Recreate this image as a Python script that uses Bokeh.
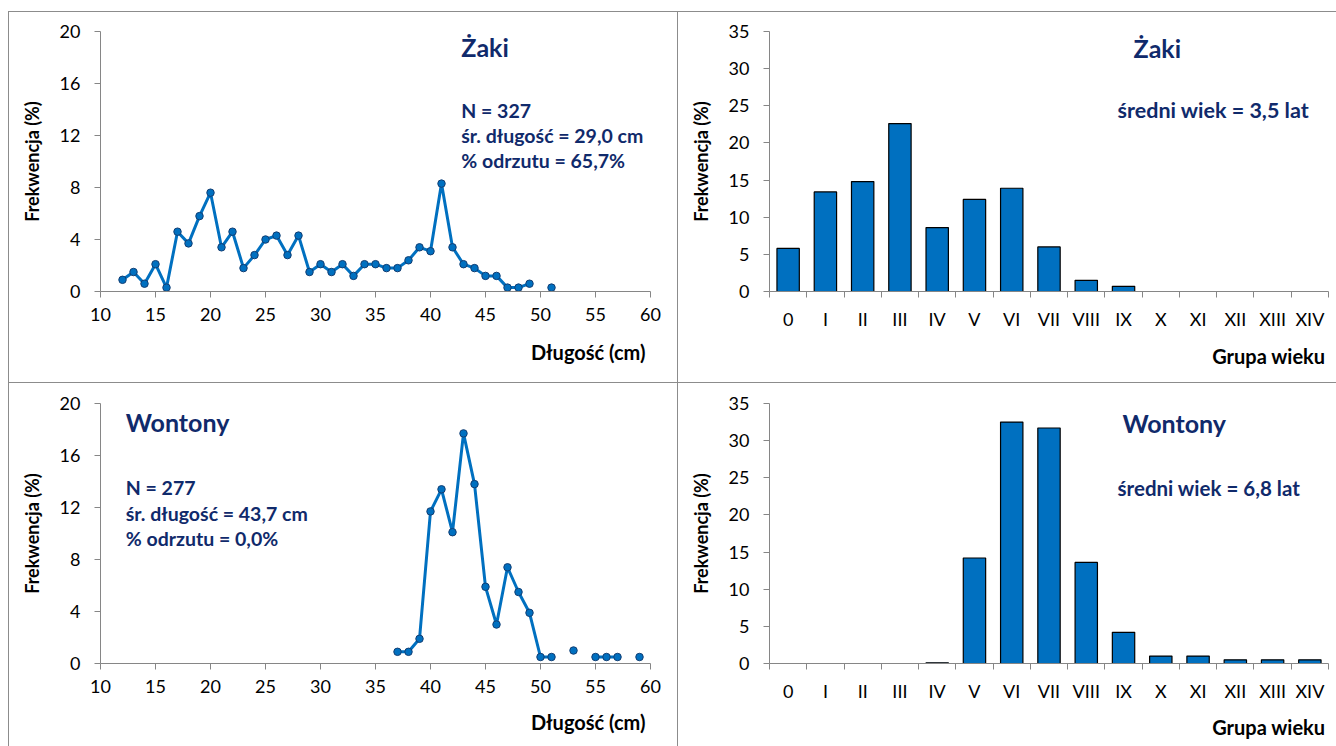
import math

from bokeh.embed import file_html
from bokeh.layouts import column, row
from bokeh.models import ColumnDataSource, FixedTicker, Label, Range1d, Spacer, Title
from bokeh.plotting import figure
from bokeh.resources import INLINE

FONT = "Lato"
NAVY = "#102A6B"
BLUE = "#0070C0"
MARKER_EDGE = "#123E73"
AXIS_GREY = "#868686"
PANEL_EDGE = "#8C8C8C"

# Length-frequency distributions (% of fish per 1 cm class); None = empty class
zaki_length_cm = list(range(12, 52))
zaki_length_pct = [0.9, 1.5, 0.6, 2.1, 0.3, 4.6, 3.7, 5.8, 7.6, 3.4,
                   4.6, 1.8, 2.8, 4.0, 4.3, 2.8, 4.3, 1.5, 2.1, 1.5,
                   2.1, 1.2, 2.1, 2.1, 1.8, 1.8, 2.4, 3.4, 3.1, 8.3,
                   3.4, 2.1, 1.8, 1.2, 1.2, 0.3, 0.3, 0.6, None, 0.3]

wontony_length_cm = list(range(37, 60))
wontony_length_pct = [0.9, 0.9, 1.9, 11.7, 13.4, 10.1, 17.7, 13.8, 5.9, 3.0,
                      7.4, 5.5, 3.9, 0.5, 0.5, None, 1.0, None, 0.5, 0.5,
                      0.5, None, 0.5]

# Age-group distributions (%)
age_groups = ["0", "I", "II", "III", "IV", "V", "VI", "VII", "VIII", "IX",
              "X", "XI", "XII", "XIII", "XIV"]
zaki_age_pct = [5.8, 13.4, 14.8, 22.6, 8.6, 12.4, 13.9, 6.0, 1.5, 0.7,
                0.0, 0.0, 0.0, 0.0, 0.0]
wontony_age_pct = [0.0, 0.0, 0.0, 0.0, 0.1, 14.2, 32.5, 31.7, 13.6, 4.2,
                   1.0, 1.0, 0.5, 0.5, 0.5]

length_ticks = [10, 15, 20, 25, 30, 35, 40, 45, 50, 55, 60]
length_pct_ticks = [0, 4, 8, 12, 16, 20]
age_pct_ticks = [0, 5, 10, 15, 20, 25, 30, 35]

zaki_length_notes = ["N = 327", "śr. długość = 29,0 cm", "% odrzutu = 65,7%"]
wontony_length_notes = ["N = 277", "śr. długość = 43,7 cm", "% odrzutu = 0,0%"]
zaki_age_note = "średni wiek = 3,5 lat"
wontony_age_note = "średni wiek = 6,8 lat"


def base_figure(width, height, x_range, y_range, top, bottom, right,
                xtitle, xtitle_standoff, xtitle_offset):
    p = figure(width=width, height=height, x_range=x_range, y_range=y_range,
               output_backend="svg", toolbar_location=None,
               min_border_left=92, min_border_right=right,
               min_border_top=top, min_border_bottom=bottom)
    p.background_fill_color = None
    p.border_fill_color = None
    p.outline_line_color = None
    p.grid.visible = False
    p.styles = {"box-shadow": f"inset 1px 1px 0 0 {PANEL_EDGE}"}
    for ax in p.axis:
        ax.axis_line_color = AXIS_GREY
        ax.major_tick_line_color = AXIS_GREY
        ax.major_tick_out = 6
        ax.major_tick_in = 0
        ax.minor_tick_line_color = None
        ax.major_label_text_font = FONT
        ax.major_label_text_font_size = "18px"
        ax.major_label_text_color = "black"
        ax.axis_label_text_font = FONT
        ax.axis_label_text_font_style = "bold"
        ax.axis_label_text_font_size = "18px"
        ax.axis_label_text_color = "black"
    p.xaxis.major_label_standoff = 10
    p.yaxis.major_label_standoff = 14
    p.yaxis.axis_label = "Frekwencja (%)"
    p.yaxis.axis_label_standoff = 14
    p.add_layout(Title(text=xtitle, align="right", offset=xtitle_offset,
                       standoff=xtitle_standoff, text_font=FONT, text_font_style="bold",
                       text_font_size="20px", text_color="black"), "below")
    return p


def note(p, x, y, text, size):
    p.add_layout(Label(x=x, y=y, text=text, text_font=FONT, text_font_style="bold",
                       text_font_size=size, text_color=NAVY, text_align="left",
                       text_baseline="middle"))


def length_panel(width, height, top, bottom, cm, pct, title, title_pos, notes, notes_pos,
                 xtitle_standoff):
    p = base_figure(width, height, Range1d(10, 60), Range1d(0, 20), top, bottom, 27,
                    "Długość (cm)", xtitle_standoff, 5)
    y = [math.nan if v is None else v for v in pct]
    p.line(cm, y, line_color=BLUE, line_width=3)
    p.scatter(cm, y, size=7.5, fill_color=BLUE, line_color=MARKER_EDGE, line_width=1)
    p.xaxis.ticker = FixedTicker(ticks=length_ticks)
    p.yaxis.ticker = FixedTicker(ticks=length_pct_ticks)
    note(p, title_pos[0], title_pos[1], title, "25px")
    nx, ny, step = notes_pos
    for i, t in enumerate(notes):
        note(p, nx, ny - i * step, t, "19.5px")
    return p


def age_panel(width, height, top, bottom, pct, title, title_pos, note_text, note_pos,
              note_size, xtitle_standoff):
    p = base_figure(width, height, Range1d(0, 15), Range1d(0, 35), top, bottom, 8,
                    "Grupa wieku", xtitle_standoff, 3)
    shown = [i for i, v in enumerate(pct) if v > 0]
    src = ColumnDataSource(dict(x=[i + 0.5 for i in shown], top=[pct[i] for i in shown]))
    p.vbar(x="x", top="top", width=0.6, source=src, fill_color=BLUE,
           line_color="black", line_width=1.2)
    # group names sit on the centres, tick marks on the group boundaries
    centres = [i + 0.5 for i in range(len(age_groups))]
    p.xaxis.ticker = FixedTicker(ticks=centres,
                                 minor_ticks=list(range(0, len(age_groups) + 1)))
    p.xaxis.major_label_overrides = {c: g for c, g in zip(centres, age_groups)}
    p.xaxis.major_tick_line_color = None
    p.xaxis.minor_tick_line_color = AXIS_GREY
    p.xaxis.minor_tick_out = 6
    p.xaxis.minor_tick_in = 0
    p.yaxis.ticker = FixedTicker(ticks=age_pct_ticks)
    note(p, title_pos[0], title_pos[1], title, "25px")
    note(p, note_pos[0], note_pos[1], note_text, note_size)
    return p


p_tl = length_panel(669, 371, 20, 91, zaki_length_cm, zaki_length_pct,
                    "Żaki", (42.8, 18.77), zaki_length_notes, (42.8, 13.92, 1.92), 29)
p_tr = age_panel(659, 371, 20, 91, zaki_age_pct, "Żaki", (9.77, 32.84),
                 zaki_age_note, (9.34, 24.5), "21.5px", 18)
p_bl = length_panel(669, 364, 21, 83, wontony_length_cm, wontony_length_pct,
                    "Wontony", (12.3, 18.54), wontony_length_notes, (12.3, 13.54, 1.98), 25)
p_br = age_panel(659, 364, 21, 83, wontony_age_pct, "Wontony", (9.47, 32.44),
                 wontony_age_note, (9.34, 23.69), "20.5px", 16)

layout = column(Spacer(width=1336, height=11),
                row(Spacer(width=8, height=371), p_tl, p_tr),
                row(Spacer(width=8, height=364), p_bl, p_br))

open("out.html", "w").write(file_html(layout, INLINE))
